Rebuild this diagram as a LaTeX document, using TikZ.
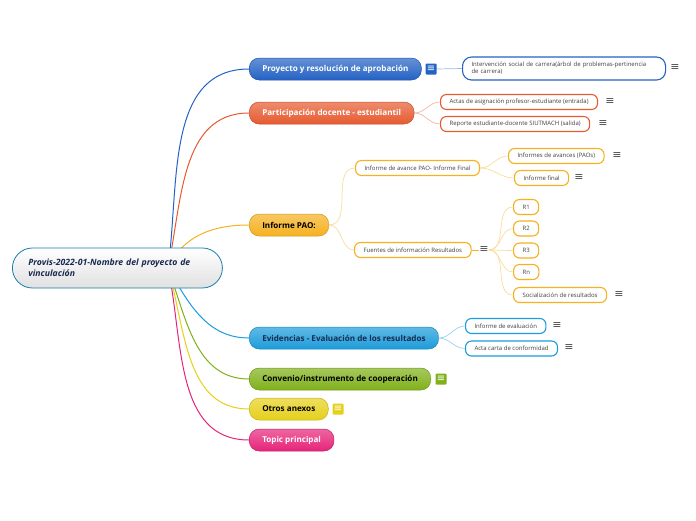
\documentclass[tikz,border=0pt]{standalone}
\usepackage{fontspec}
\setmainfont{Open Sans}
\newfontfamily\symfont{DejaVu Sans}
\usetikzlibrary{backgrounds}

\definecolor{cblue}{HTML}{2462C4}
\definecolor{corange}{HTML}{E65A30}
\definecolor{cpao}{HTML}{F5B120}
\definecolor{csky}{HTML}{1C9CDA}
\definecolor{cgreen}{HTML}{80B11A}
\definecolor{cyellow}{HTML}{E6D01A}
\definecolor{cpink}{HTML}{E62479}
\definecolor{cnavy}{HTML}{1A2A50}

\tikzset{
  main/.style={rounded corners=10pt, minimum height=22pt, inner xsep=13pt, inner ysep=2pt,
    font=\fontsize{8.1}{9}\selectfont\bfseries, top color=#1!70!white, bottom color=#1,
    draw=#1!85!black, line width=0.5pt, anchor=west},
  sub/.style={rounded corners=6pt, minimum height=15pt, inner xsep=9pt, inner ysep=1pt,
    draw=#1, line width=1.1pt, fill=white, font=\fontsize{6}{7}\selectfont,
    text=black!75, anchor=west},
  link/.style={line width=1pt, draw=#1},
  sublink/.style={line width=0.7pt, draw=#1!45!white},
  boxicon/.style={fill=#1, rounded corners=1pt, minimum size=11pt, inner sep=0pt,
    text=white, font=\symfont\fontsize{10}{10}\selectfont},
  lineicon/.style={text=black!70, font=\symfont\fontsize{11}{11}\selectfont, inner sep=0pt}
}

\begin{document}
\begin{tikzpicture}[x=1pt,y=1pt]
\useasboundingbox (0,0) rectangle (696,-520);

\node[rounded corners=20pt, draw=csky!80!black, line width=0.8pt, top color=white, bottom color=black!12,
  minimum width=210pt, minimum height=40pt, text width=178pt, align=left, anchor=west,
  font=\fontsize{8.7}{11}\selectfont\bfseries\itshape, text=cnavy] (root) at (12,-268)
  {Provis-2022-01-Nombre del proyecto de\\vinculación};
\coordinate (hub) at (168,-268);

\node[main=cblue, text=white] (proy) at (249,-69) {Proyecto y resolución de aprobación};
\node[boxicon=cblue] (proyi) at (431,-69) {≡};
\node[sub=cblue, align=left, text width=185pt, minimum height=23pt, rounded corners=9pt] (interv) at (462,-68.5)
  {Intervención social de carrera(árbol de problemas-pertinencia\\de carrera)};
\node[lineicon] (intervi) at (675,-68) {≡};

\node[main=corange, text=white] (part) at (249,-113) {Participación docente - estudiantil};
\node[sub=corange] (actas) at (440,-102) {Actas de asignación profesor-estudiante (entrada)};
\node[lineicon] (actasi) at (610,-102) {≡};
\node[sub=corange] (repo) at (440,-124) {Reporte estudiante-docente SIUTMACH (salida)};
\node[lineicon] (repoi) at (603,-124) {≡};

\node[main=cpao, text=black] (pao) at (249,-225) {Informe PAO:};
\node[sub=cpao] (avance) at (355,-168) {Informe de avance PAO- Informe Final};
\node[sub=cpao] (avances) at (508,-156) {Informes de avances (PAOs)};
\node[lineicon] (avancesi) at (617,-156) {≡};
\node[sub=cpao] (final) at (514,-178) {Informe final};
\node[lineicon] (finali) at (579,-178) {≡};
\node[sub=cpao] (fuentes) at (354,-250) {Fuentes de información Resultados};
\node[lineicon] (fuentesi) at (484,-250) {≡};
\node[sub=cpao] (r1) at (513,-207) {R1};
\node[sub=cpao] (r2) at (513,-228.5) {R2};
\node[sub=cpao] (r3) at (513,-250.5) {R3};
\node[sub=cpao] (rn) at (513,-272) {Rn};
\node[sub=cpao] (social) at (513,-295) {Socialización de resultados};
\node[lineicon] (sociali) at (619,-295) {≡};

\node[main=csky, text=cnavy] (evid) at (249,-338) {Evidencias - Evaluación de los resultados};
\node[sub=csky] (evalu) at (465,-326) {Informe de evaluación};
\node[lineicon] (evalui) at (557,-326) {≡};
\node[sub=csky] (acta) at (465,-348.5) {Acta carta de conformidad};
\node[lineicon] (actai) at (569,-348) {≡};

\node[main=cgreen, text=black] (conv) at (249,-379) {Convenio/instrumento de cooperación};
\node[boxicon=cgreen] (convi) at (441,-379) {≡};

\node[main=cyellow, text=black] (otros) at (249,-409) {Otros anexos};
\node[boxicon=cyellow] (otrosi) at (338,-409) {≡};

\node[main=cpink, text=white] (topic) at (249,-440) {Topic principal};

\begin{scope}[on background layer]
\draw[link=cblue] (hub) to[out=82,in=180] (proy.west);
\draw[link=corange] (hub) to[out=78,in=180] (part.west);
\draw[link=cpao] (hub) to[out=65,in=180] (pao.west);
\draw[link=csky] (hub) to[out=-60,in=180] (evid.west);
\draw[link=cgreen] (hub) to[out=-70,in=180] (conv.west);
\draw[link=cyellow] (hub) to[out=-74,in=180] (otros.west);
\draw[link=cpink] (hub) to[out=-78,in=180] (topic.west);

\draw[sublink=cblue] (proyi.east) -- (interv.west);
\draw[sublink=corange] (part.east) to[out=0,in=180] (actas.west);
\draw[sublink=corange] (part.east) to[out=0,in=180] (repo.west);
\draw[sublink=cpao] (pao.east) to[out=0,in=180] (avance.west);
\draw[sublink=cpao] (pao.east) to[out=0,in=180] (fuentes.west);
\draw[sublink=cpao] (avance.east) to[out=0,in=180] (avances.west);
\draw[sublink=cpao] (avance.east) to[out=0,in=180] (final.west);
\draw[line width=1pt, draw=cpao] (fuentes.east) -- (fuentesi.west);
\foreach \r in {r1,r2,r3,rn,social}
  \draw[sublink=cpao] (fuentesi.east) to[out=0,in=180] (\r.west);
\draw[sublink=csky] (evid.east) to[out=0,in=180] (evalu.west);
\draw[sublink=csky] (evid.east) to[out=0,in=180] (acta.west);
\end{scope}
\end{tikzpicture}
\end{document}
